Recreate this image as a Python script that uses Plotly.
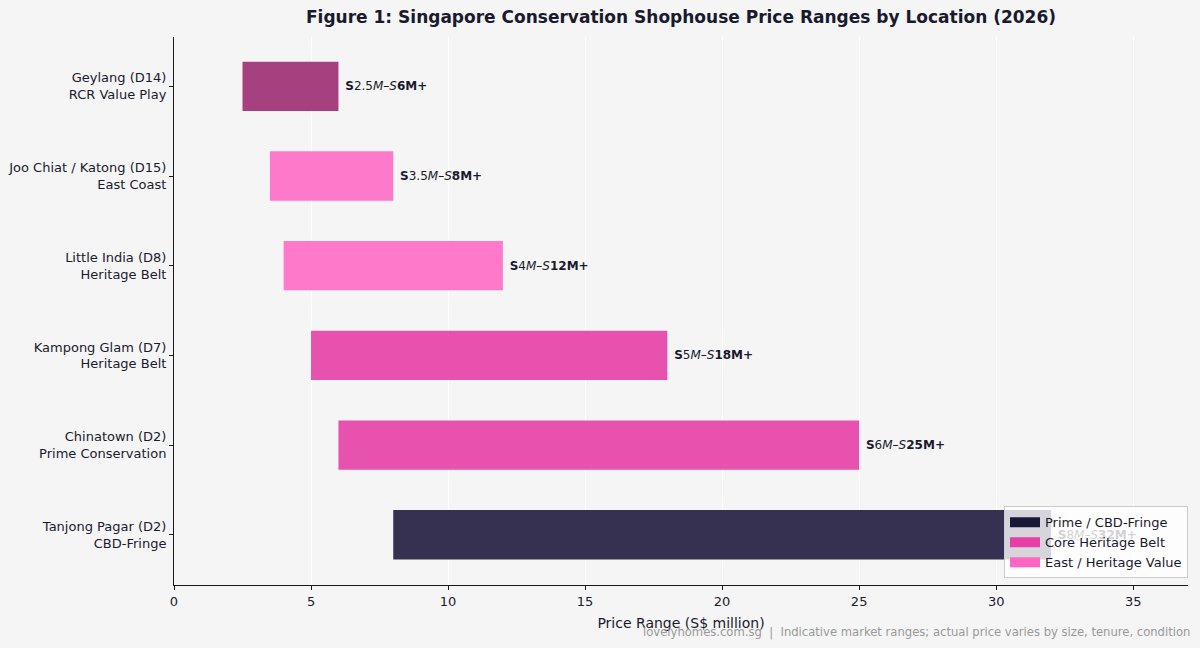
import plotly.graph_objects as go

locations = ["Tanjong Pagar (D2)<br>CBD-Fringe",
             "Chinatown (D2)<br>Prime Conservation",
             "Kampong Glam (D7)<br>Heritage Belt",
             "Little India (D8)<br>Heritage Belt",
             "Joo Chiat / Katong (D15)<br>East Coast",
             "Geylang (D14)<br>RCR Value Play"]
low = [8, 6, 5, 4, 3.5, 2.5]
high = [32, 25, 18, 12, 8, 6]
low_txt = ["8", "6", "5", "4", "3.5", "2.5"]
high_txt = ["32", "25", "18", "12", "8", "6"]
bar_colors = ["#363150", "#e652ad", "#e652ad", "#ff79ca", "#ff79ca", "#a6407f"]
legend_names = ["Prime / CBD-Fringe", "Core Heritage Belt", "East / Heritage Value"]
legend_colors = ["#1a1838", "#e63fa6", "#ff66c4"]

ypos = list(range(len(locations)))
labels = [f"\u00a0<b>S</b>{lo}<i>M–S</i><b>{hi}M+</b>" for lo, hi in zip(low_txt, high_txt)]

L, R, T, B = 174, 1188, 37, 585

fig = go.Figure()
fig.add_trace(go.Bar(
    y=ypos, x=[h - l for h, l in zip(high, low)], base=low, orientation="h",
    width=0.55, marker=dict(color=bar_colors, line=dict(width=0)),
    text=labels, textposition="outside", cliponaxis=False,
    textfont=dict(family="DejaVu Sans", size=12, color="#1a1a2e"),
    showlegend=False, hoverinfo="skip"))
for name, col in zip(legend_names, legend_colors):
    fig.add_trace(go.Scatter(y=[None], x=[None], mode="lines", name=name,
                             line=dict(color=col, width=11), showlegend=True))

fig.update_layout(
    width=1200, height=648,
    margin=dict(l=L, r=1200 - R, t=T, b=648 - B),
    paper_bgcolor="#f5f5f5", plot_bgcolor="#f5f5f5",
    font=dict(family="DejaVu Sans", size=13, color="#1a1a2e"),
    barmode="overlay",
    title=dict(text="<b>Figure 1: Singapore Conservation Shophouse Price Ranges by Location (2026)</b>",
               x=681/1200, xanchor="center", y=1 - 17/648, yanchor="middle",
               font=dict(size=17, color="#1a1a2e")),
    legend=dict(x=1, xanchor="right", y=0.012, yanchor="bottom",
                bgcolor="rgba(255,255,255,0.8)", bordercolor="#cccccc", borderwidth=1,
                font=dict(size=13, color="#1a1a2e"), tracegroupgap=0, itemwidth=30),
    xaxis=dict(range=[0, 37], tickvals=[0, 5, 10, 15, 20, 25, 30, 35],
               showgrid=True, gridcolor="#ffffff", gridwidth=1.2,
               showline=True, linecolor="#1a1a1a", linewidth=1,
               ticks="outside", ticklen=4, tickcolor="#1a1a1a", zeroline=False,
               automargin=False,
               title=dict(text="Price Range (S$ million)", font=dict(size=14), standoff=10)),
    yaxis=dict(range=[-0.56, 5.55], tickvals=ypos, ticktext=locations,
               showgrid=False, showline=True, linecolor="#1a1a1a", linewidth=1,
               ticks="outside", ticklen=4, tickcolor="#1a1a1a", zeroline=False,
               automargin=False),
)
fig.add_annotation(text="lovelyhomes.com.sg  |  Indicative market ranges; actual price varies by size, tenure, condition",
                   xref="paper", yref="paper", x=(1192 - L) / (R - L), xanchor="right",
                   y=(B - 632) / (B - T), yanchor="middle", showarrow=False,
                   font=dict(size=11.6, color="#999999"))
fig.write_html("out.html")
